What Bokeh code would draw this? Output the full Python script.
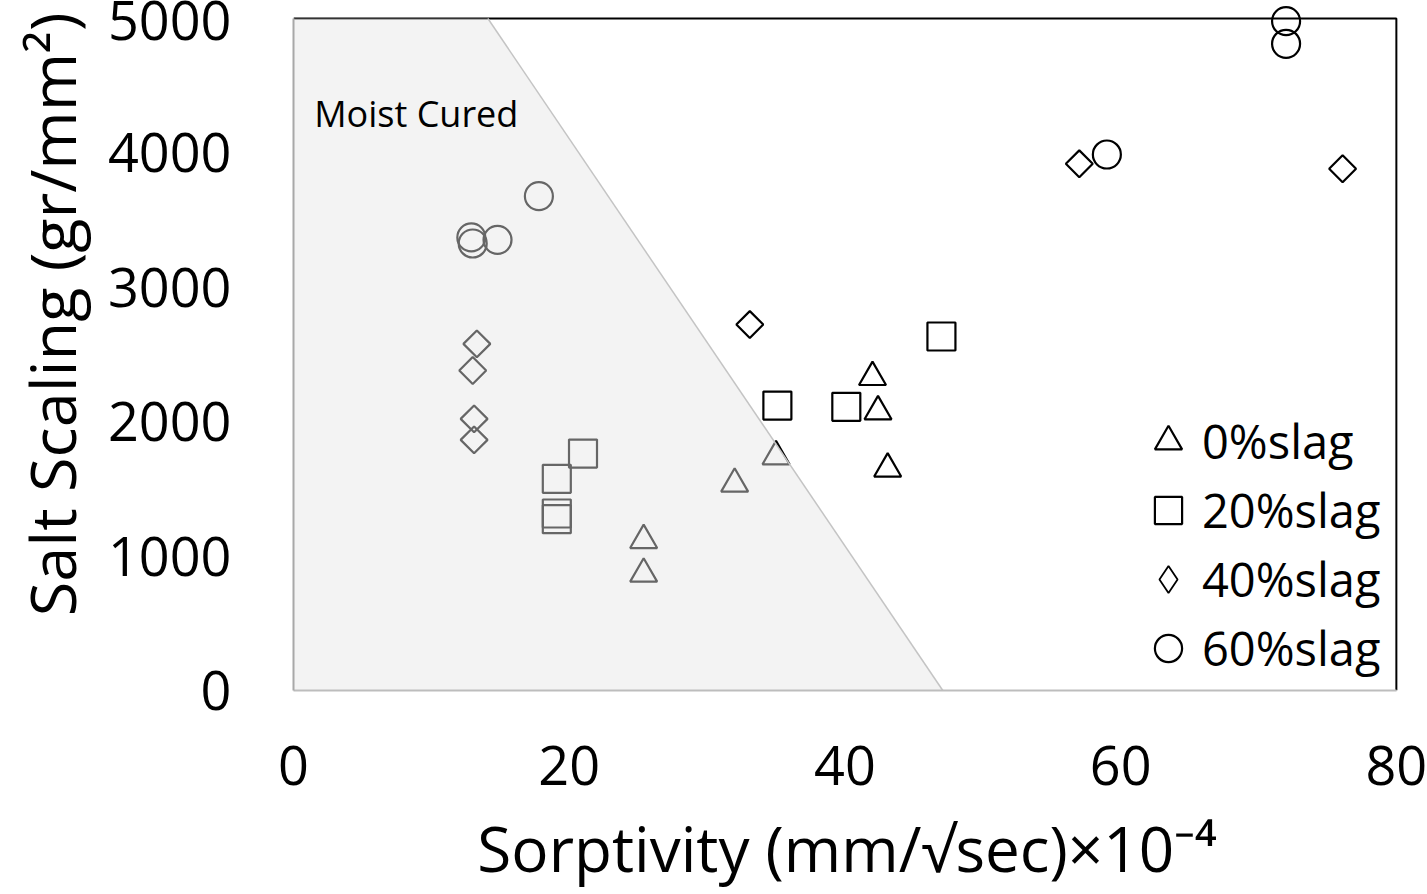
from bokeh.plotting import figure
from bokeh.models import Range1d, Legend, LegendItem, Label, FixedTicker, Title
from bokeh.embed import file_html
from bokeh.resources import INLINE
import math

# ---------------- data ----------------
slag0_x = [25.4, 25.4, 32.0, 35.0, 42.0, 42.4, 43.1]
slag0_y = [1118, 868, 1538, 1741, 2331, 2076, 1650]

slag20_x = [21.0, 19.1, 19.1, 19.1, 35.1, 40.1, 47.0]
slag20_y = [1763, 1575, 1317, 1275, 2120, 2111, 2634]

slag40_x = [13.3, 13.0, 13.1, 13.1, 33.1, 57.0, 76.1]
slag40_y = [2579, 2381, 2021, 1865, 2723, 3919, 3882]

slag60_x = [17.8, 12.9, 13.0, 14.8, 59.0, 72.0, 72.0]
slag60_y = [3678, 3371, 3326, 3353, 3988, 4980, 4812]

series_names = ["0%slag", "20%slag", "40%slag", "60%slag"]

# shaded "moist cured" region
region_x = [0, 0, 14.1, 47.1]
region_y = [0, 5000, 5000, 0]

x_ticks = [0, 20, 40, 60, 80]
y_ticks = [0, 1000, 2000, 3000, 4000, 5000]
x_max, y_max = 80, 5000

x_title = "Sorptivity (mm/\u221asec)\u00d710\u207b\u2074"
y_title = "Salt Scaling (gr/mm\u00b2)"
note_text = "Moist Cured"

FONT = "Open Sans"

p = figure(width=1427, height=894, output_backend="svg", toolbar_location=None,
           title=None,
           x_range=Range1d(0, 80.3), y_range=Range1d(0, 5134),
           min_border_left=292, min_border_right=27,
           min_border_top=0, min_border_bottom=204)
p.outline_line_color = None
p.background_fill_color = "white"
p.border_fill_color = "white"
p.xgrid.visible = False
p.ygrid.visible = False

for ax in (p.xaxis[0], p.yaxis[0]):
    ax.major_tick_line_color = None
    ax.minor_tick_line_color = None
    ax.major_tick_out = 0
    ax.major_tick_in = 0
    ax.major_label_text_font = FONT
    ax.major_label_text_font_size = "54px"
    ax.major_label_text_color = "black"
    ax.axis_line_width = 2

p.xaxis.ticker = FixedTicker(ticks=x_ticks)
p.yaxis.ticker = FixedTicker(ticks=y_ticks)
p.xaxis.bounds = (0, x_max)
p.yaxis.bounds = (0, y_max)
p.xaxis.axis_line_color = "#bdbdbd"
p.yaxis.axis_line_color = "#a8a8a8"
p.yaxis.major_label_standoff = 62
p.xaxis.major_label_standoff = 55

p.xaxis.axis_label = x_title
p.xaxis.axis_label_text_font = FONT
p.xaxis.axis_label_text_font_size = "62px"
p.xaxis.axis_label_text_font_style = "normal"
p.xaxis.axis_label_text_color = "black"
p.xaxis.axis_label_standoff = 18

p.add_layout(Title(text=y_title, align="right", offset=12, vertical_align="top",
                   text_font=FONT, text_font_size="63px",
                   text_font_style="normal", text_color="black",
                   standoff=17), "left")

# frame: top and right borders
p.line([0, x_max, x_max], [y_max, y_max, 0], line_color="black", line_width=2)

mk = dict(fill_color=None, line_color="black", line_width=2.2)
r0 = p.scatter(slag0_x, slag0_y, marker="triangle", size=27, **mk)
r20 = p.scatter(slag20_x, slag20_y, marker="square", size=28, **mk)
r40 = p.scatter(slag40_x, slag40_y, marker="square", size=19, angle=math.pi / 4, **mk)
r60 = p.scatter(slag60_x, slag60_y, marker="circle", size=28, **mk)

# legend-only diamond renderer (legend glyphs ignore angle); its point is NaN
r40_leg = p.scatter(x=[float("nan")], y=[float("nan")], marker="diamond",
                    fill_color=None, line_color="black", line_width=1.8)

# translucent shading for the moist-cured region
p.patch(region_x, region_y, fill_color="#e4e4e4", fill_alpha=0.447, line_color=None)
p.line(region_x[2:4], region_y[2:4], line_color="#c4c4c4", line_width=1.5)

p.add_layout(Label(x=1.5, y=4293, text=note_text, text_font=FONT,
                   text_font_size="36px", text_color="black",
                   text_baseline="alphabetic"))

legend = Legend(items=[LegendItem(label=series_names[0], renderers=[r0]),
                       LegendItem(label=series_names[1], renderers=[r20]),
                       LegendItem(label=series_names[2], renderers=[r40_leg]),
                       LegendItem(label=series_names[3], renderers=[r60])],
                location=(841, 8), glyph_width=68, glyph_height=68,
                label_standoff=0, spacing=1, padding=0, margin=0,
                label_text_font=FONT, label_text_font_size="47px",
                label_text_color="black",
                background_fill_alpha=0, border_line_color=None)
p.add_layout(legend)

open("out.html", "w").write(file_html(p, INLINE))
